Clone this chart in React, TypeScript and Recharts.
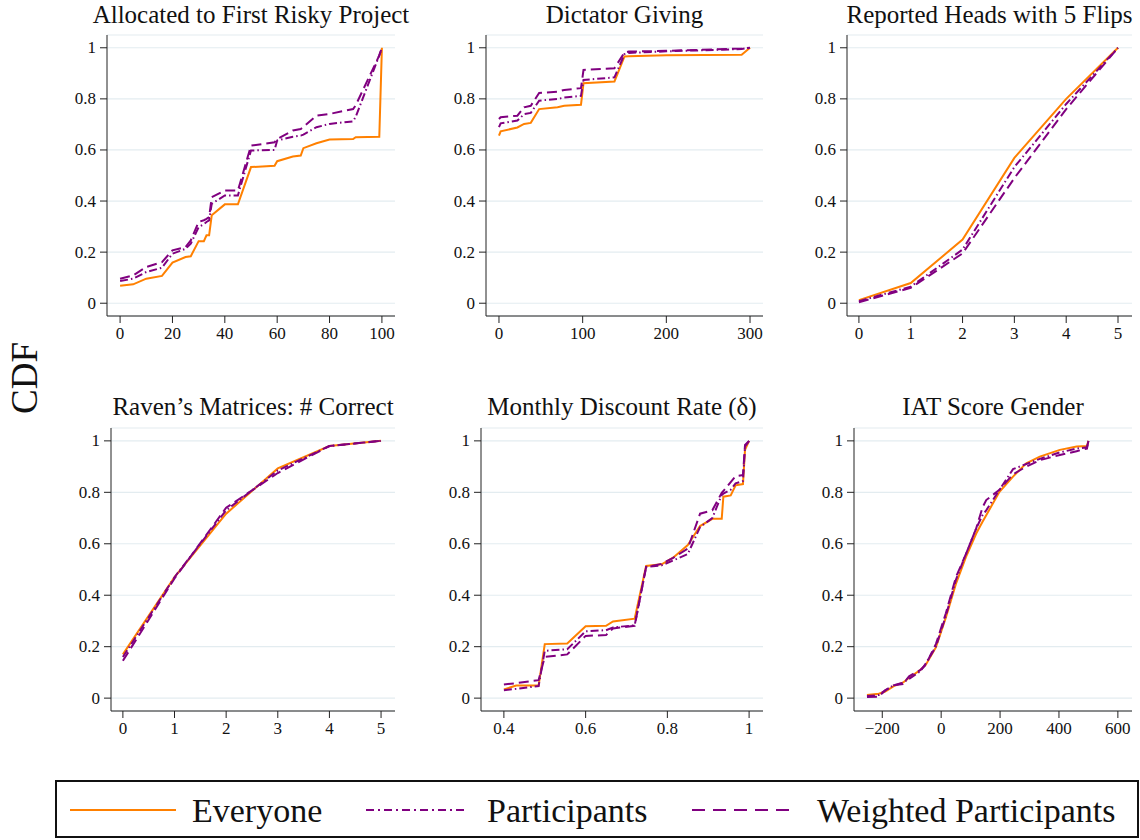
import { LineChart, Line, XAxis, YAxis, CartesianGrid } from 'recharts'

// Allocated to First Risky Project
const riskyX = [0, 5, 10, 16, 20, 25, 27, 30, 32, 33, 34, 35, 40, 45, 50, 59, 60, 66, 69, 70, 75, 80, 89, 90, 99, 100]
const riskyEveryone = [0.068, 0.074, 0.096, 0.107, 0.159, 0.181, 0.184, 0.243, 0.243, 0.266, 0.266, 0.344, 0.387, 0.387, 0.533, 0.538, 0.556, 0.574, 0.578, 0.607, 0.626, 0.641, 0.643, 0.65, 0.652, 1.0]
const riskyParticipants = [0.087, 0.096, 0.122, 0.139, 0.194, 0.213, 0.233, 0.298, 0.31, 0.318, 0.324, 0.389, 0.422, 0.422, 0.598, 0.6, 0.637, 0.652, 0.656, 0.66, 0.689, 0.702, 0.712, 0.73, 0.97, 1.0]
const riskyWeighted = [0.096, 0.109, 0.142, 0.161, 0.207, 0.22, 0.246, 0.318, 0.325, 0.33, 0.337, 0.415, 0.441, 0.441, 0.617, 0.63, 0.643, 0.676, 0.682, 0.69, 0.734, 0.741, 0.76, 0.775, 0.97, 1.0]

// Dictator Giving
const dictatorX = [0, 2, 22, 30, 38, 48, 70, 78, 98, 101, 138, 150, 155, 200, 290, 300]
const dictatorEveryone = [0.656, 0.673, 0.688, 0.702, 0.706, 0.76, 0.767, 0.773, 0.777, 0.861, 0.868, 0.966, 0.967, 0.971, 0.973, 1.0]
const dictatorParticipants = [0.689, 0.704, 0.715, 0.74, 0.745, 0.793, 0.8, 0.805, 0.812, 0.874, 0.884, 0.975, 0.98, 0.986, 0.995, 1.0]
const dictatorWeighted = [0.721, 0.728, 0.734, 0.767, 0.773, 0.823, 0.828, 0.835, 0.842, 0.913, 0.92, 0.982, 0.985, 0.988, 0.997, 1.0]

// Reported Heads with 5 Flips
const headsX = [0, 1, 2, 3, 4, 5]
const headsEveryone = [0.012, 0.079, 0.249, 0.569, 0.8, 1.0]
const headsParticipants = [0.008, 0.065, 0.21, 0.533, 0.78, 1.0]
const headsWeighted = [0.004, 0.06, 0.195, 0.49, 0.76, 1.0]

// Raven's Matrices
const ravenX = [0, 1, 2, 3, 4, 5]
const ravenEveryone = [0.17, 0.47, 0.717, 0.893, 0.98, 1.0]
const ravenParticipants = [0.16, 0.47, 0.73, 0.885, 0.98, 1.0]
const ravenWeighted = [0.145, 0.465, 0.74, 0.875, 0.98, 1.0]

// Monthly Discount Rate
const discountX = [0.4, 0.43, 0.485, 0.5, 0.555, 0.6, 0.65, 0.667, 0.72, 0.748, 0.786, 0.814, 0.85, 0.88, 0.91, 0.933, 0.937, 0.955, 0.967, 0.985, 0.99, 1.0]
const discountEveryone = [0.034, 0.049, 0.049, 0.21, 0.212, 0.279, 0.281, 0.298, 0.309, 0.514, 0.52, 0.546, 0.595, 0.669, 0.697, 0.697, 0.783, 0.788, 0.827, 0.832, 0.965, 1.0]
const discountParticipants = [0.031, 0.036, 0.047, 0.184, 0.19, 0.26, 0.264, 0.275, 0.283, 0.51, 0.516, 0.535, 0.56, 0.665, 0.7, 0.79, 0.795, 0.81, 0.835, 0.844, 0.978, 1.0]
const discountWeighted = [0.053, 0.058, 0.07, 0.16, 0.17, 0.242, 0.245, 0.271, 0.281, 0.509, 0.522, 0.545, 0.581, 0.717, 0.73, 0.798, 0.805, 0.84, 0.863, 0.867, 0.984, 1.0]

// IAT Score Gender
const iatX = [-252, -212, -190, -161, -130, -109, -70, -52, -18, 16, 50, 84, 119, 140, 153, 198, 244, 289, 335, 403, 460, 495, 500]
const iatEveryone = [0.012, 0.017, 0.025, 0.047, 0.06, 0.079, 0.11, 0.13, 0.197, 0.314, 0.444, 0.548, 0.64, 0.685, 0.711, 0.802, 0.861, 0.913, 0.939, 0.965, 0.978, 0.98, 1.0]
const iatParticipants = [0.008, 0.012, 0.03, 0.05, 0.06, 0.075, 0.105, 0.135, 0.2, 0.32, 0.46, 0.56, 0.66, 0.71, 0.73, 0.81, 0.89, 0.91, 0.93, 0.955, 0.97, 0.975, 1.0]
const iatWeighted = [0.004, 0.006, 0.03, 0.05, 0.055, 0.085, 0.11, 0.13, 0.21, 0.33, 0.47, 0.56, 0.66, 0.74, 0.77, 0.81, 0.87, 0.9, 0.925, 0.945, 0.96, 0.97, 1.0]

const yTicks = [0, 0.2, 0.4, 0.6, 0.8, 1]

const ORANGE = '#ff8000'
const PURPLE = '#800080'
const FONT = 'Liberation Serif, DejaVu Serif, serif'

const build = (xs: number[], a: number[], b: number[], c: number[]) =>
  xs.map((x, i) => ({ x, everyone: a[i], participants: b[i], weighted: c[i] }))

const fmt = (v: number) => (v < 0 ? '\u2212' + Math.abs(v) : String(v))

const panels = [
  { title: 'Allocated to First Risky Project', data: build(riskyX, riskyEveryone, riskyParticipants, riskyWeighted), domain: [-5, 105], ticks: [0, 20, 40, 60, 80, 100], box: [107, 35, 395, 316] },
  { title: 'Dictator Giving', data: build(dictatorX, dictatorEveryone, dictatorParticipants, dictatorWeighted), domain: [-15.5, 315.5], ticks: [0, 100, 200, 300], box: [486, 35, 763, 316] },
  { title: 'Reported Heads with 5 Flips', data: build(headsX, headsEveryone, headsParticipants, headsWeighted), domain: [-0.23, 5.27], ticks: [0, 1, 2, 3, 4, 5], box: [847, 35, 1132, 316] },
  { title: 'Raven\u2019s Matrices: # Correct', data: build(ravenX, ravenEveryone, ravenParticipants, ravenWeighted), domain: [-0.23, 5.27], ticks: [0, 1, 2, 3, 4, 5], box: [111, 428, 395, 711] },
  { title: 'Monthly Discount Rate (\u03b4)', data: build(discountX, discountEveryone, discountParticipants, discountWeighted), domain: [0.344, 1.034], ticks: [0.4, 0.6, 0.8, 1], box: [481, 428, 763, 711] },
  { title: 'IAT Score Gender', data: build(iatX, iatEveryone, iatParticipants, iatWeighted), domain: [-296, 648], ticks: [-200, 0, 200, 400, 600], box: [854, 428, 1132, 711] },
]

const YW = 60

const XTick = (props: any) => {
  const { x, y, payload } = props
  return (
    <text x={x} y={y + 13} textAnchor="middle" fontFamily={FONT} fontSize={17} fill="#111">
      {fmt(payload.value)}
    </text>
  )
}

const YTick = (props: any) => {
  const { x, y, payload } = props
  return (
    <text x={x} y={y + 5.5} textAnchor="end" fontFamily={FONT} fontSize={17} fill="#111">
      {fmt(payload.value)}
    </text>
  )
}

function Panel({ p }: { p: (typeof panels)[number] }) {
  const [l, t, r, b] = p.box
  const w = r - l + YW + 5
  const h = b - t + 5 + 30
  return (
    <div style={{ position: 'absolute', left: l - YW, top: t - 5, fontFamily: FONT }}>
      <LineChart width={w} height={h} data={p.data} margin={{ top: 5, right: 5, bottom: 0, left: 0 }}>
        <CartesianGrid vertical={false} stroke="#e3ecf0" strokeWidth={1.2} />
        <XAxis
          dataKey="x"
          type="number"
          domain={p.domain}
          ticks={p.ticks}
          height={30}
          tickSize={7}
          tickMargin={3}
          tick={<XTick />}
          stroke="#222"
          interval={0}
        />
        <YAxis
          type="number"
          domain={[-0.05, 1.05]}
          ticks={yTicks}
          width={YW}
          tickSize={7}
          tickMargin={4}
          tick={<YTick />}
          stroke="#222"
          interval={0}
        />
        <Line type="linear" dataKey="everyone" stroke={ORANGE} strokeWidth={2} dot={false} activeDot={false} isAnimationActive={false} />
        <Line type="linear" dataKey="participants" stroke={PURPLE} strokeWidth={2} strokeDasharray="8 3 1.5 3" dot={false} activeDot={false} isAnimationActive={false} />
        <Line type="linear" dataKey="weighted" stroke={PURPLE} strokeWidth={2} strokeDasharray="10 5" dot={false} activeDot={false} isAnimationActive={false} />
      </LineChart>
    </div>
  )
}

export default function App() {
  return (
    <div style={{ position: 'absolute', left: 0, top: 0, width: 1140, height: 840, background: '#fff', overflow: 'hidden' }}>
      <svg width={1140} height={840} style={{ position: 'absolute', left: 0, top: 0 }}>
        {panels.map((p, i) => (
          <text
            key={i}
            x={(p.box[0] + p.box[2]) / 2}
            y={i < 3 ? 23 : 415}
            textAnchor="middle"
            fontFamily={FONT}
            fontSize={25}
            fill="#111"
          >
            {p.title}
          </text>
        ))}
        <text x={0} y={0} transform="translate(37 378) rotate(-90)" textAnchor="middle" fontFamily={FONT} fontSize={37} fill="#111">
          CDF
        </text>
        <rect x={56} y={781} width={1082} height={56} fill="#fff" stroke="#111" strokeWidth={2} />
        <line x1={70} x2={176} y1={810} y2={810} stroke={ORANGE} strokeWidth={2} />
        <text x={192} y={822} fontFamily={FONT} fontSize={34} fill="#111">Everyone</text>
        <line x1={366} x2={466} y1={810} y2={810} stroke={PURPLE} strokeWidth={2} strokeDasharray="8 4 2 4" />
        <text x={487} y={822} fontFamily={FONT} fontSize={34} fill="#111">Participants</text>
        <line x1={692} x2={794} y1={810} y2={810} stroke={PURPLE} strokeWidth={2} strokeDasharray="13 8" />
        <text x={817} y={822} fontFamily={FONT} fontSize={34} fill="#111">Weighted Participants</text>
      </svg>
      {panels.map((p, i) => (
        <Panel key={i} p={p} />
      ))}
    </div>
  )
}
